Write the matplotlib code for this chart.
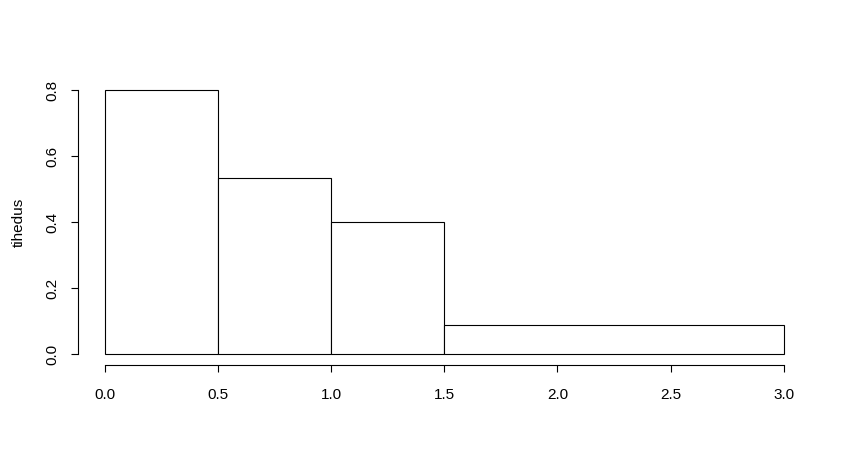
import numpy as np
import matplotlib.pyplot as plt

plt.rcParams['font.family'] = ['Liberation Sans', 'DejaVu Sans']

# histogram data (density scale)
breaks = [0.0, 0.5, 1.0, 1.5, 3.0]
density = [0.8, 0.5333, 0.4, 0.0889]
x_ticks = [0.0, 0.5, 1.0, 1.5, 2.0, 2.5, 3.0]
y_ticks = [0.0, 0.2, 0.4, 0.6, 0.8]

fig = plt.figure(figsize=(8.52, 4.63), dpi=100)
ax = fig.add_axes([0.0913, 0.2125, 0.8603, 0.6156])

widths = np.diff(breaks)
ax.bar(breaks[:-1], density, width=widths, align='edge',
       facecolor='white', edgecolor='black', linewidth=0.8)

ax.set_xlim(-0.12, 3.12)
ax.set_ylim(-0.032, 0.832)

for s in ['top', 'right']:
    ax.spines[s].set_visible(False)
ax.spines['left'].set_bounds(0, 0.8)
ax.spines['bottom'].set_bounds(0, 3)
ax.spines['left'].set_linewidth(0.8)
ax.spines['bottom'].set_linewidth(0.8)

ax.set_xticks(x_ticks)
ax.set_xticklabels([f'{v:.1f}' for v in x_ticks])
ax.set_yticks(y_ticks)
ax.set_yticklabels([f'{v:.1f}' for v in y_ticks], rotation=90, va='center')
ax.tick_params(axis='both', length=5, width=0.8, labelsize=11)
ax.tick_params(axis='x', pad=12)
ax.tick_params(axis='y', pad=8)

ax.set_ylabel('tihedus', fontsize=11, labelpad=14)

fig.savefig('out.png', dpi=100)
